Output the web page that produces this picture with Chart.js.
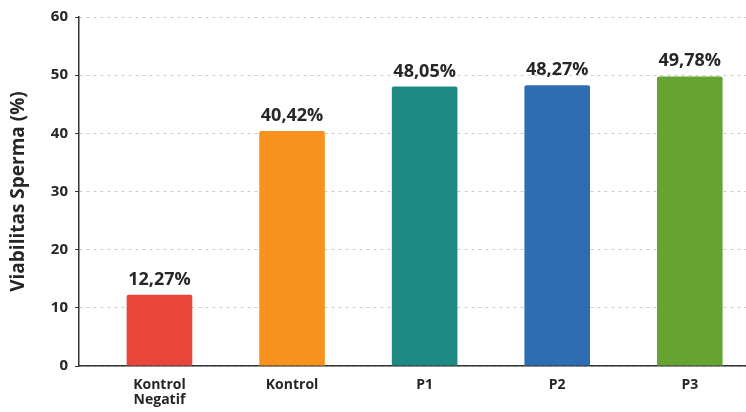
<!DOCTYPE html>
<html>
<head>
<meta charset="utf-8">
<script src="https://cdn.jsdelivr.net/npm/chart.js@4/dist/chart.umd.min.js"></script>
<style>
  html, body { margin: 0; padding: 0; background: #fff; overflow: hidden; }
  #wrap { width: 746px; height: 412px; position: relative; }
</style>
</head>
<body>
<div id="wrap"><canvas id="chart"></canvas></div>
<script>
// Datos del gráfico
const kategori = [['Kontrol', 'Negatif'], 'Kontrol', 'P1', 'P2', 'P3'];
const viabilitas = [12.27, 40.42, 48.05, 48.27, 49.78];
const warnaBatang = ['#e8463a', '#f7921f', '#1d8a84', '#2f6db3', '#66a333'];
const yTicks = [0, 10, 20, 30, 40, 50, 60];

const textColor = '#262626';
const fontFamily = "'Open Sans', 'Noto Sans', sans-serif";

// etiquetas de valor encima de cada barra
const valueLabels = {
    id: 'valueLabels',
    afterDatasetsDraw(chart) {
        const ctx = chart.ctx;
        const meta = chart.getDatasetMeta(0);
        ctx.save();
        ctx.fillStyle = textColor;
        ctx.font = `bold 18px ${fontFamily}`;
        ctx.textAlign = 'center';
        ctx.textBaseline = 'alphabetic';
        meta.data.forEach((bar, i) => {
            const txt = viabilitas[i].toFixed(2).replace('.', ',') + '%';
            ctx.fillText(txt, bar.x, bar.y - 10);
        });
        ctx.restore();
    }
};

new Chart(document.getElementById('chart'), {
    type: 'bar',
    data: {
        datasets: [{
            data: viabilitas.map((v, i) => ({ x: i, y: v })),
            backgroundColor: warnaBatang,
            borderWidth: 0,
            borderRadius: { topLeft: 2, topRight: 2 },
            borderSkipped: 'bottom',
            barPercentage: 0.495,
            categoryPercentage: 1
        }]
    },
    options: {
        responsive: true,
        maintainAspectRatio: false,
        animation: false,
        layout: { padding: { top: 17, left: 0, right: 0, bottom: 0 } },
        plugins: {
            legend: { display: false },
            tooltip: { enabled: false }
        },
        scales: {
            x: {
                type: 'linear',
                offset: false,
                bounds: 'data',
                min: -0.607,
                max: 4.424,
                afterBuildTicks: s => { s.ticks = kategori.map((_, i) => ({ value: i })); },
                afterFit: s => { s.height = 46; },
                grid: { display: false },
                border: { display: true, color: '#333333', width: 1.5 },
                ticks: {
                    autoSkip: false,
                    maxRotation: 0,
                    padding: 3,
                    color: textColor,
                    font: { family: fontFamily, size: 14, weight: 'bold', lineHeight: 1.1 },
                    callback: v => kategori[v]
                }
            },
            y: {
                min: 0,
                max: 60,
                afterBuildTicks: s => { s.ticks = yTicks.map(v => ({ value: v })); },
                afterFit: s => { s.width = 79; },
                grid: { color: '#cccccc', lineWidth: 1, tickLength: 4, tickColor: '#333333' },
                border: { display: true, color: '#333333', width: 1.5, dash: [3, 4] },
                ticks: {
                    padding: 7,
                    color: textColor,
                    font: { family: fontFamily, size: 15, weight: 'bold' }
                },
                title: {
                    display: true,
                    text: 'Viabilitas Sperma (%)',
                    color: textColor,
                    font: { family: fontFamily, size: 19, weight: 'bold' },
                    padding: { top: 7, bottom: 0 }
                }
            }
        }
    },
    plugins: [valueLabels]
});
</script>
</body>
</html>
